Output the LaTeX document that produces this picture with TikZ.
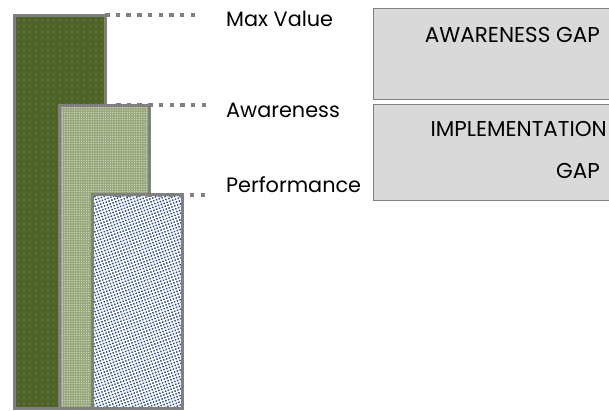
\documentclass[tikz,border=0pt]{standalone}
\usepackage{fontspec}
\setmainfont{Poppins}
\usetikzlibrary{patterns.meta}

\definecolor{darkolive}{RGB}{79,98,40}
\definecolor{olivedot}{RGB}{150,170,110}
\definecolor{sage}{RGB}{150,168,124}
\definecolor{sagedot}{RGB}{220,228,205}
\definecolor{navydot}{RGB}{45,80,135}
\definecolor{edgegray}{RGB}{128,128,128}
\definecolor{boxgray}{RGB}{217,217,217}

\tikzset{
  bar/.style={draw=edgegray, line width=3pt, anchor=north west, inner sep=0pt, outer sep=0pt},
  maxfill/.style={preaction={fill=darkolive}, pattern={Dots[distance=6pt,radius=0.6pt]}, pattern color=olivedot},
  awfill/.style={preaction={fill=sage}, pattern={Dots[distance=2.4pt,radius=0.6pt]}, pattern color=sagedot},
  perffill/.style={preaction={fill=white}, pattern={Dots[distance=3pt,radius=1.05pt,angle=20]}, pattern color=navydot},
  level/.style={draw=edgegray, line width=4.5pt, dash pattern=on 4.5pt off 6.2pt},
  label/.style={anchor=base west, font=\fontsize{20.8}{25}\selectfont, inner sep=0pt},
  gapbox/.style={draw=edgegray, fill=boxgray, line width=1.2pt, anchor=north west, inner sep=0pt, minimum width=252pt},
  gaptext/.style={anchor=base east, font=\fontsize{21.5}{26}\selectfont, inner sep=0pt}
}

\begin{document}
\begin{tikzpicture}[x=1pt, y=-1pt]
  \useasboundingbox (0,0) rectangle (609,410);

  % bars, tallest first
  \node[bar, maxfill, minimum width=91pt, minimum height=393pt] (maxbar) at (14,15) {};
  \node[bar, awfill, minimum width=90pt, minimum height=303pt] (awbar) at (59,105) {};
  \node[bar, perffill, minimum width=90pt, minimum height=214pt] (perfbar) at (92,194) {};

  % level markers
  \coordinate (maxend) at (197,15);
  \coordinate (awstart) at (116,105);
  \coordinate (awend) at (207,105);
  \coordinate (perfstart) at (115,195);
  \coordinate (perfend) at (207,195);
  \draw[level] (maxbar.north east) -- (maxend);
  \draw[level] (awstart) -- (awend);
  \draw[level] (perfstart) -- (perfend);

  % level labels
  \node[label] (maxlbl) at (226,26) {Max Value};
  \node[label] (awlbl) at (226,117) {Awareness};
  \node[label] (perflbl) at (226,192) {Performance};

  % gap boxes
  \node[gapbox, minimum height=91pt] (awgap) at (373,8) {};
  \node[gapbox, minimum height=96pt] (impgap) at (373,104) {};
  \node[gaptext] (awgaptxt) at (600,42) {AWARENESS GAP};
  \node[gaptext] (impgaptxt) at (607,136) {IMPLEMENTATION};
  \node[gaptext] (impgaptxt2) at (600,178) {GAP};
\end{tikzpicture}
\end{document}
